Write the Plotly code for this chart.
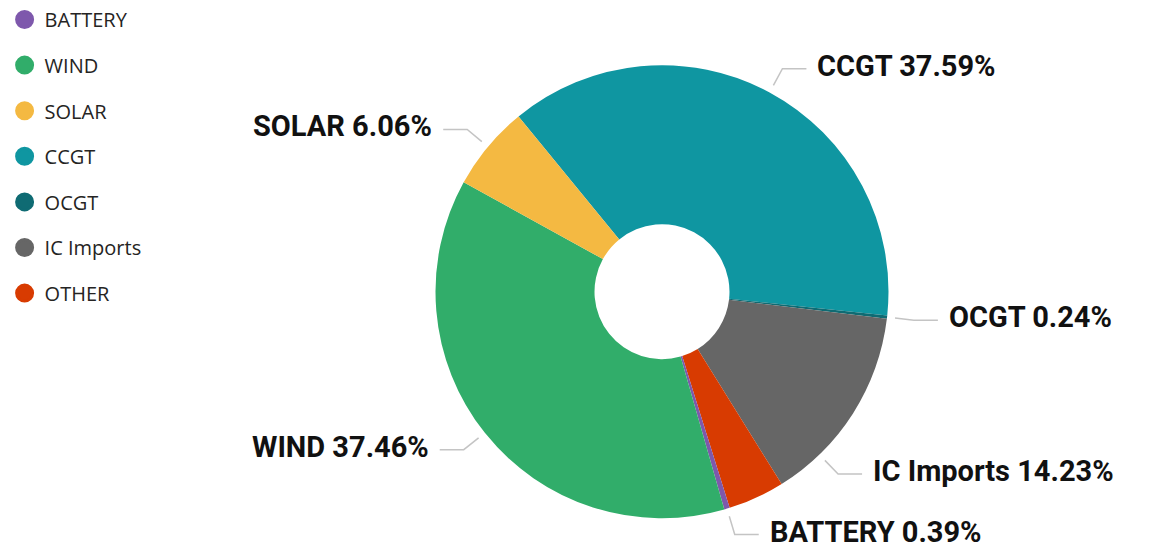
import math
import plotly.graph_objects as go

# ---- data ----
slice_names = ["CCGT", "OCGT", "IC Imports", "OTHER", "BATTERY", "WIND", "SOLAR"]
slice_values = [37.59, 0.24, 14.23, 4.03, 0.39, 37.46, 6.06]
legend_order = ["BATTERY", "WIND", "SOLAR", "CCGT", "OCGT", "IC Imports", "OTHER"]

# ---- style ----
colors = {
    "BATTERY": "#7E58AC",
    "WIND": "#31AD6A",
    "SOLAR": "#F4B942",
    "CCGT": "#0F96A1",
    "OCGT": "#0F6B73",
    "IC Imports": "#666666",
    "OTHER": "#D83B01",
}
hidden_labels = {"OTHER"}
label_angle_nudge = {"IC Imports": 13.5}   # label collision offset (deg)

W, H = 1150, 551
CX, CY, R = 662, 291.7, 226.5
ROTATION = -39.3
HOLE = 0.298

fig = go.Figure()

fig.add_trace(go.Pie(
    labels=slice_names,
    values=slice_values,
    marker=dict(colors=[colors[n] for n in slice_names], line=dict(width=0)),
    hole=HOLE,
    sort=False,
    direction="clockwise",
    rotation=ROTATION,
    textinfo="none",
    hoverinfo="label+percent",
    showlegend=False,
    domain=dict(x=[(CX - R) / W, (CX + R) / W],
                y=[(H - CY - R) / H, (H - CY + R) / H]),
))

# legend entries (circle markers)
for i, n in enumerate(legend_order):
    fig.add_trace(go.Scatter(
        x=[None], y=[None], mode="markers", name=n,
        legendgroup=n,
        marker=dict(symbol="circle", size=16, color=colors[n],
                    line=dict(width=3, color=colors[n])),
        hoverinfo="skip",
    ))

# outside labels with elbow leader lines
total = sum(slice_values)
shapes, annotations = [], []
angle = ROTATION
for n, v in zip(slice_names, slice_values):
    span = v / total * 360.0
    mid = angle + span / 2 + label_angle_nudge.get(n, 0.0)
    angle += span
    if n in hidden_labels:
        continue
    a = math.radians(mid)
    sx, sy = math.sin(a), -math.cos(a)
    x0, y0 = CX + (R + 8) * sx, CY + (R + 8) * sy
    x1, y1 = CX + (R + 27) * sx, CY + (R + 27) * sy
    side = 1 if sx >= 0 else -1
    x2 = x1 + side * 24
    px = lambda x: x / W
    py = lambda y: 1 - y / H
    shapes.append(dict(
        type="path", xref="paper", yref="paper",
        path=f"M {px(x0)},{py(y0)} L {px(x1)},{py(y1)} L {px(x2)},{py(y1)}",
        line=dict(color="#C4C4C4", width=1.5),
    ))
    annotations.append(dict(
        x=px(x2 + side * 9), y=py(y1), xref="paper", yref="paper",
        text=f"{n} {v:.2f}%", showarrow=False,
        xanchor="left" if side > 0 else "right", yanchor="middle",
        yshift=3,
        font=dict(family="Roboto", size=29, color="#111111", weight="bold"),
    ))

fig.update_layout(
    width=W, height=H,
    margin=dict(l=0, r=0, t=0, b=0),
    paper_bgcolor="white", plot_bgcolor="white",
    xaxis=dict(visible=False), yaxis=dict(visible=False),
    shapes=shapes, annotations=annotations,
    showlegend=True,
    legend=dict(
        x=0.004, y=1.0, xanchor="left", yanchor="top",
        traceorder="grouped", tracegroupgap=16.6,
        font=dict(family="Open Sans", size=20, color="#252423"),
        bgcolor="rgba(0,0,0,0)",
    ),
)

fig.write_html(
    "out.html",
    config={"displayModeBar": False},
    post_script="document.body.style.margin='0';document.body.style.overflow='hidden';",
)
